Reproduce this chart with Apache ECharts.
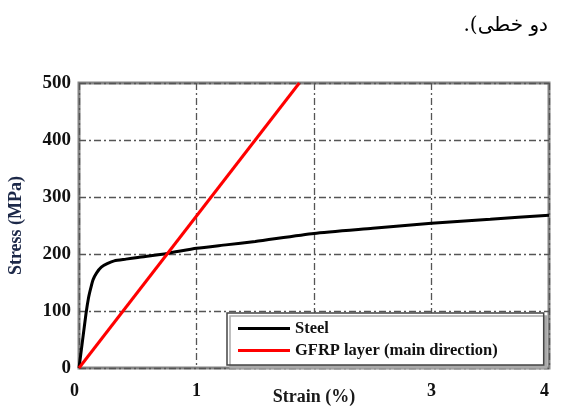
<!DOCTYPE html>
<html>
<head>
<meta charset="utf-8">
<script src="https://cdn.jsdelivr.net/npm/echarts@6/dist/echarts.min.js"></script>
<style>
    html, body { margin: 0; padding: 0; background: #fff; }
    #chart { width: 566px; height: 410px; }
</style>
</head>
<body>
<div id="chart"></div>
<script>
    var captionText = '\u202Bدو خطی).\u202C';
    var seriesNames = ['Steel', 'GFRP layer (main direction)'];
    var xTicks = [0, 1, 2, 3, 4];
    var xTickLabels = ['0', '1', '', '3', '4'];
    var yTicks = [0, 100, 200, 300, 400, 500];

    // strain (%), stress (MPa)
    var steelStrain = [0, 0.03, 0.06, 0.08, 0.1, 0.12, 0.15, 0.19, 0.24, 0.3, 0.4, 0.5, 0.75, 1.0, 1.25, 1.5, 2.0, 2.5, 3.0, 3.5, 4.0];
    var steelStress = [0, 48, 96, 122, 140, 155, 167, 177, 183, 188, 191, 194, 201, 210, 216, 222, 236, 245, 254, 261, 268];
    var gfrpStrain = [0, 1.875];
    var gfrpStress = [0, 500];

    var serifFont = '"Liberation Serif", "Times New Roman", serif';

    function pairs(xs, ys) {
        var out = [];
        for (var i = 0; i < xs.length; i++) {
            out.push([xs[i], ys[i]]);
        }
        return out;
    }

    var gridDash = [7, 3, 2, 3];

    var options = {
        animation: false,
        backgroundColor: '#fff',
        graphic: [{
            type: 'text',
            right: 18,
            top: 16,
            style: {
                text: captionText,
                font: '20px "DejaVu Serif", "DejaVu Sans", serif',
                fill: '#000'
            }
        }],
        grid: {
            left: 79,
            top: 83,
            width: 470,
            height: 285,
            outerBoundsMode: 'none',
            containLabel: false,
            show: true,
            borderColor: '#858585',
            borderWidth: 3,
            backgroundColor: '#fff'
        },
        legend: {
            orient: 'vertical',
            left: 227,
            top: 313,
            data: seriesNames,
            icon: 'rect',
            backgroundColor: '#fff',
            borderColor: '#444',
            borderWidth: 1.5,
            shadowColor: '#aaa',
            shadowOffsetX: 3,
            shadowOffsetY: 3,
            padding: [7, 46, 6, 11],
            itemWidth: 52,
            itemHeight: 3,
            itemGap: 5,
            itemTextGap: 10,
            textStyle: {
                fontFamily: serifFont,
                fontWeight: 'bold',
                fontSize: 16.5,
                color: '#111',
                lineHeight: 16
            }
        },
        xAxis: {
            type: 'value',
            min: 0,
            max: 4,
            interval: 1,
            name: 'Strain (%)',
            nameLocation: 'middle',
            nameGap: 20,
            nameMoveOverlap: false,
            nameTextStyle: {
                fontFamily: serifFont,
                fontWeight: 'bold',
                fontSize: 18,
                color: '#1a1a1a'
            },
            axisLine: { show: false },
            axisTick: { show: false },
            axisLabel: {
                margin: 14,
                alignMinLabel: 'right',
                alignMaxLabel: 'right',
                fontFamily: serifFont,
                fontWeight: 'bold',
                fontSize: 18,
                color: '#111',
                formatter: function (v) {
                    var idx = xTicks.indexOf(v);
                    return idx >= 0 ? xTickLabels[idx] : '';
                }
            },
            splitLine: {
                show: true,
                lineStyle: { color: '#555', width: 1.3, type: gridDash }
            }
        },
        yAxis: {
            type: 'value',
            min: yTicks[0],
            max: yTicks[yTicks.length - 1],
            interval: 100,
            name: 'Stress (MPa)',
            nameLocation: 'middle',
            nameGap: 54,
            nameTextStyle: {
                fontFamily: serifFont,
                fontWeight: 'bold',
                fontSize: 18,
                color: '#1c2848'
            },
            axisLine: { show: false },
            axisTick: { show: false },
            axisLabel: {
                margin: 8,
                fontFamily: serifFont,
                fontWeight: 'bold',
                fontSize: 19,
                color: '#111'
            },
            splitLine: {
                show: true,
                lineStyle: { color: '#555', width: 1.3, type: gridDash }
            }
        },
        series: [{
            type: 'line',
            name: seriesNames[0],
            data: pairs(steelStrain, steelStress),
            symbol: 'none',
            smooth: 0.2,
            lineStyle: { color: '#000', width: 3 },
            itemStyle: { color: '#000' },
            z: 3
        }, {
            type: 'line',
            name: seriesNames[1],
            data: pairs(gfrpStrain, gfrpStress),
            symbol: 'none',
            lineStyle: { color: '#ff0000', width: 3 },
            itemStyle: { color: '#ff0000' },
            z: 4
        }]
    };

    var chartObj = echarts.init(document.getElementById('chart'));
    chartObj.setOption(options);
</script>
</body>
</html>
